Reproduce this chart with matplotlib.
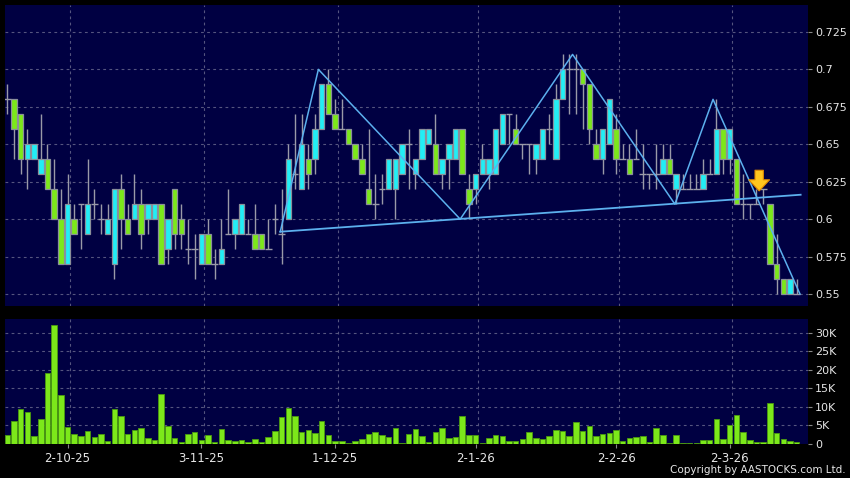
import matplotlib
matplotlib.use("Agg")
import matplotlib.pyplot as plt
import numpy as np

# Daily candles (HKD)
opens = [0.68, 0.68, 0.67, 0.64, 0.64, 0.63, 0.64, 0.62, 0.60, 0.57,
         0.60, 0.61, 0.59, 0.61, 0.60, 0.59, 0.57, 0.62, 0.60, 0.60,
         0.61, 0.60, 0.60, 0.61, 0.58, 0.62, 0.60, 0.58, 0.58, 0.57,
         0.59, 0.57, 0.57, 0.59, 0.59, 0.59, 0.59, 0.59, 0.59, 0.58,
         0.60, 0.59, 0.60, 0.63, 0.62, 0.64, 0.64, 0.66, 0.69, 0.67,
         0.66, 0.66, 0.65, 0.64, 0.62, 0.61, 0.62, 0.62, 0.62, 0.63,
         0.65, 0.63, 0.64, 0.65, 0.65, 0.63, 0.64, 0.64, 0.66, 0.62,
         0.62, 0.63, 0.63, 0.63, 0.65, 0.67, 0.66, 0.65, 0.65, 0.64,
         0.64, 0.66, 0.64, 0.68, 0.70, 0.70, 0.70, 0.69, 0.65, 0.64,
         0.65, 0.66, 0.64, 0.64, 0.64, 0.63, 0.63, 0.63, 0.63, 0.64,
         0.62, 0.62, 0.62, 0.62, 0.62, 0.63, 0.63, 0.66, 0.64, 0.64,
         0.61, 0.61, 0.61, 0.62, 0.61, 0.57, 0.56, 0.55, 0.55]
highs = [0.69, 0.68, 0.67, 0.66, 0.65, 0.67, 0.65, 0.64, 0.62, 0.63,
         0.61, 0.61, 0.64, 0.62, 0.61, 0.61, 0.62, 0.63, 0.61, 0.63,
         0.62, 0.61, 0.61, 0.61, 0.60, 0.62, 0.61, 0.60, 0.59, 0.59,
         0.60, 0.58, 0.60, 0.62, 0.60, 0.61, 0.60, 0.61, 0.59, 0.60,
         0.61, 0.62, 0.65, 0.67, 0.67, 0.65, 0.67, 0.69, 0.70, 0.68,
         0.68, 0.66, 0.65, 0.65, 0.66, 0.63, 0.63, 0.64, 0.64, 0.65,
         0.66, 0.64, 0.66, 0.66, 0.67, 0.64, 0.65, 0.66, 0.66, 0.63,
         0.63, 0.65, 0.64, 0.66, 0.67, 0.67, 0.67, 0.65, 0.65, 0.65,
         0.66, 0.67, 0.69, 0.71, 0.71, 0.71, 0.70, 0.69, 0.66, 0.66,
         0.68, 0.67, 0.65, 0.65, 0.66, 0.65, 0.63, 0.65, 0.65, 0.65,
         0.63, 0.63, 0.63, 0.63, 0.64, 0.64, 0.68, 0.66, 0.66, 0.64,
         0.63, 0.61, 0.62, 0.62, 0.61, 0.59, 0.56, 0.56, 0.56]
lows = [0.67, 0.64, 0.63, 0.62, 0.64, 0.63, 0.62, 0.60, 0.57, 0.57,
        0.59, 0.58, 0.59, 0.60, 0.59, 0.59, 0.56, 0.58, 0.59, 0.60,
        0.58, 0.59, 0.60, 0.57, 0.57, 0.58, 0.58, 0.57, 0.56, 0.57,
        0.57, 0.56, 0.57, 0.59, 0.58, 0.59, 0.59, 0.58, 0.58, 0.58,
        0.59, 0.57, 0.60, 0.62, 0.62, 0.62, 0.63, 0.66, 0.67, 0.66,
        0.66, 0.65, 0.64, 0.63, 0.61, 0.60, 0.61, 0.62, 0.60, 0.63,
        0.62, 0.62, 0.64, 0.65, 0.63, 0.62, 0.62, 0.64, 0.63, 0.60,
        0.61, 0.63, 0.62, 0.63, 0.65, 0.65, 0.65, 0.64, 0.63, 0.63,
        0.64, 0.65, 0.64, 0.68, 0.67, 0.67, 0.66, 0.65, 0.64, 0.63,
        0.65, 0.63, 0.64, 0.63, 0.64, 0.62, 0.62, 0.62, 0.63, 0.63,
        0.61, 0.62, 0.62, 0.62, 0.62, 0.63, 0.63, 0.63, 0.63, 0.61,
        0.60, 0.60, 0.61, 0.61, 0.57, 0.55, 0.55, 0.55, 0.55]
closes = [0.68, 0.66, 0.64, 0.65, 0.65, 0.64, 0.62, 0.60, 0.57, 0.61,
          0.59, 0.61, 0.61, 0.61, 0.60, 0.60, 0.62, 0.60, 0.59, 0.61,
          0.59, 0.61, 0.61, 0.57, 0.60, 0.59, 0.59, 0.58, 0.58, 0.59,
          0.57, 0.57, 0.58, 0.59, 0.60, 0.61, 0.59, 0.58, 0.58, 0.58,
          0.60, 0.59, 0.64, 0.63, 0.65, 0.63, 0.66, 0.69, 0.67, 0.66,
          0.66, 0.65, 0.64, 0.63, 0.61, 0.61, 0.62, 0.64, 0.64, 0.65,
          0.65, 0.64, 0.66, 0.66, 0.63, 0.64, 0.65, 0.66, 0.63, 0.61,
          0.63, 0.64, 0.64, 0.66, 0.67, 0.67, 0.65, 0.65, 0.65, 0.65,
          0.66, 0.66, 0.68, 0.70, 0.70, 0.70, 0.69, 0.66, 0.64, 0.66,
          0.68, 0.64, 0.64, 0.63, 0.64, 0.63, 0.63, 0.63, 0.64, 0.63,
          0.63, 0.62, 0.62, 0.62, 0.63, 0.63, 0.66, 0.64, 0.66, 0.61,
          0.61, 0.61, 0.61, 0.62, 0.57, 0.56, 0.55, 0.56, 0.55]
volumes = [2250, 6040, 9280, 8470, 1980, 6670, 19100, 32000, 13000, 4500,
           2520, 2070, 3510, 1890, 2700, 810, 9280, 7300, 2520, 3600,
           4140, 1440, 900, 13500, 4600, 1440, 540, 2520, 3150, 900,
           2250, 450, 4050, 900, 630, 900, 450, 1350, 540, 1710,
           3330, 7200, 9460, 7390, 3240, 3780, 2880, 6040, 2430, 630,
           630, 180, 630, 1350, 2520, 3150, 2250, 1710, 4230, 270,
           2520, 3870, 2070, 360, 3150, 4230, 1530, 1710, 7390, 2430,
           2340, 120, 1440, 2340, 1980, 810, 720, 1350, 3240, 1530,
           1170, 1980, 3600, 3420, 1980, 5680, 3420, 4600, 1980, 2700,
           2970, 3780, 720, 1440, 1710, 2160, 450, 4320, 2250, 180,
           2250, 180, 90, 270, 900, 900, 6580, 1260, 4870, 7660,
           3240, 990, 450, 450, 11000, 2880, 1260, 720, 360]

date_pos = [9, 29, 49, 70, 91, 108]
date_labels = ["2-10-25", "3-11-25", "1-12-25", "2-1-26", "2-2-26", "2-3-26"]
price_ticks = [0.55, 0.575, 0.6, 0.625, 0.65, 0.675, 0.7, 0.725]
price_tick_labels = ["0.55", "0.575", "0.6", "0.625", "0.65", "0.675", "0.7", "0.725"]
vol_ticks = [0, 5000, 10000, 15000, 20000, 25000, 30000]
vol_tick_labels = ["0", "5K", "10K", "15K", "20K", "25K", "30K"]

# head & shoulders zigzag and neckline (index, price)
zig_x = [40.8, 46.5, 67.7, 84.5, 99.8, 105.5, 118.5]
zig_y = [0.5916, 0.70, 0.60, 0.71, 0.61, 0.68, 0.55]
neck_x = [40.8, 118.6]
neck_y = [0.5916, 0.6163]
arrow_x = 112.4
arrow_top, arrow_tip = 0.6345, 0.617

# Colors
bg = "#000000"
panel = "#000042"
grid_c = "#55557f"
up_c = "#22eef5"
down_c = "#7ce81a"
edge_c = "#8a8f9a"
wick_c = "#9a9aa8"
line_c = "#5cb0ee"
text_c = "#e6e6e6"

W, H = 850, 478
fig = plt.figure(figsize=(8.5, 4.78), dpi=100, facecolor=bg)
ax = fig.add_axes([5 / W, 1 - 306 / H, 803 / W, 301 / H])
axv = fig.add_axes([5 / W, 1 - 443.5 / H, 803 / W, 124.5 / H])

opens = np.array(opens)
closes = np.array(closes)
highs = np.array(highs)
lows = np.array(lows)
x = np.arange(len(opens))

for a in (ax, axv):
    a.set_facecolor(panel)
    for s in a.spines.values():
        s.set_visible(False)
    a.set_xlim(-0.35, 119.7)
    for p in date_pos:
        a.axvline(p + 0.4, color=grid_c, lw=0.8, ls=(0, (2.5, 3)), zorder=0)
    a.yaxis.tick_right()
    a.tick_params(axis="y", colors="#888888", labelcolor=text_c, labelsize=8, length=3, width=0.8, pad=2)

# Price panel
ax.set_ylim(0.542, 0.743)
ax.set_yticks(price_ticks)
ax.set_yticklabels(price_tick_labels)
for t in price_ticks:
    ax.axhline(t, color=grid_c, lw=0.8, ls=(0, (2.5, 3)), zorder=0)
ax.set_xticks([])

ax.vlines(x, lows, highs, color=wick_c, lw=1, zorder=2)
up = closes > opens
down = closes < opens
flat = closes == opens
ax.bar(x[up], (closes - opens)[up], bottom=opens[up], width=0.82,
       color=up_c, edgecolor=edge_c, linewidth=0.9, zorder=3)
ax.bar(x[down], (opens - closes)[down], bottom=closes[down], width=0.82,
       color=down_c, edgecolor=edge_c, linewidth=0.9, zorder=3)
ax.hlines(opens[flat], x[flat] - 0.5, x[flat] + 0.5, color=wick_c, lw=1, zorder=3)

ax.plot(zig_x, zig_y, color=line_c, lw=1.1, zorder=4)
ax.plot(neck_x, neck_y, color=line_c, lw=1.3, zorder=4)
ax.annotate("", xy=(arrow_x, arrow_tip), xytext=(arrow_x, arrow_top),
            arrowprops=dict(arrowstyle="simple,head_width=1.5,head_length=0.8,tail_width=0.6",
                            fc="#ffc61e", ec="#e08a00", lw=0.8), zorder=5)

# Volume panel
axv.set_ylim(0, 33650)
axv.set_yticks(vol_ticks)
axv.set_yticklabels(vol_tick_labels)
for t in vol_ticks[1:]:
    axv.axhline(t, color=grid_c, lw=0.8, ls=(0, (2.5, 3)), zorder=0)
axv.bar(x, volumes, width=0.82, color=down_c, edgecolor="#4a9a10", linewidth=0.6, zorder=3)
axv.set_xticks(date_pos)
axv.set_xticklabels(date_labels)
axv.tick_params(axis="x", colors="#888888", labelcolor=text_c, labelsize=8.5, length=3, width=0.8, pad=3)

fig.text(846 / W, 1 - 470 / H, "Copyright by AASTOCKS.com Ltd.", color=text_c,
         fontsize=7.5, ha="right", va="center", family=["Liberation Sans Narrow", "DejaVu Sans"])

fig.savefig("out.png", dpi=100, facecolor=bg)
